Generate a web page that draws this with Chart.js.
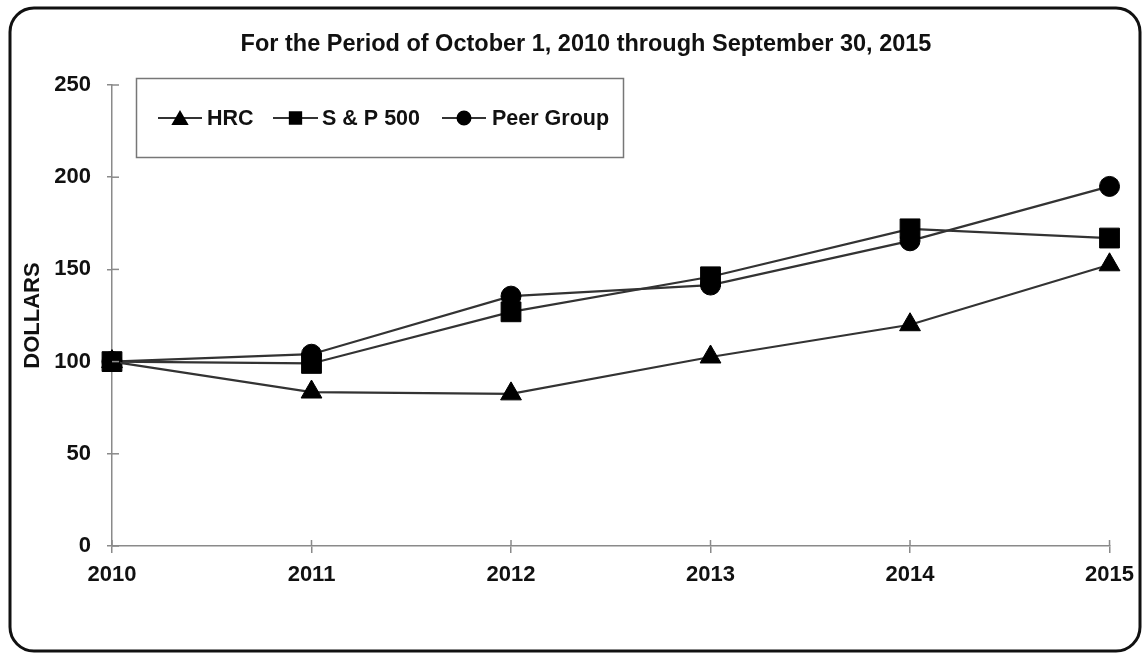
<!DOCTYPE html>
<html>
<head>
<meta charset="utf-8">
<script src="https://cdn.jsdelivr.net/npm/chart.js@4/dist/chart.umd.min.js"></script>
<style>
  html, body { margin: 0; padding: 0; background: #fff; }
  #wrap { position: relative; width: 1143px; height: 655px; }
</style>
</head>
<body>
<div id="wrap"><canvas id="c" width="1143" height="655"></canvas></div>
<script>
const years = ['2010', '2011', '2012', '2013', '2014', '2015'];
const hrc = [100, 83.5, 82.5, 102.5, 120, 152.5];
const sp500 = [100, 99, 127, 146, 172, 167];
const peerGroup = [100, 104, 135.5, 141.5, 165.5, 195];
const yTicks = [0, 50, 100, 150, 200, 250];
const titleText = 'For the Period of October 1, 2010 through September 30, 2015';
const yTitle = 'DOLLARS';
const seriesNames = ['HRC', 'S & P 500', 'Peer Group'];

const FONT = '"Liberation Sans", Arial, Helvetica, sans-serif';
const LINE = '#333';
const AXIS = '#8a8a8a';

const decor = {
  id: 'decor',
  beforeDraw(chart) {
    const ctx = chart.ctx;
    ctx.save();
    ctx.fillStyle = '#fff';
    ctx.fillRect(0, 0, chart.width, chart.height);
    ctx.beginPath();
    ctx.lineWidth = 3;
    ctx.strokeStyle = '#111';
    ctx.roundRect(10, 8, 1130, 643, 24);
    ctx.stroke();
    ctx.restore();
  },
  afterDraw(chart) {
    const ctx = chart.ctx;
    const xs = chart.scales.x, ys = chart.scales.y;
    ctx.save();
    ctx.strokeStyle = AXIS;
    ctx.lineWidth = 1.5;
    ys.ticks.forEach((t) => {
      const y = ys.getPixelForValue(t.value);
      ctx.beginPath(); ctx.moveTo(xs.left, y); ctx.lineTo(xs.left + 7, y); ctx.stroke();
    });
    years.forEach((yr, i) => {
      const x = xs.getPixelForValue(i);
      ctx.beginPath(); ctx.moveTo(x, ys.bottom); ctx.lineTo(x, ys.bottom - 6); ctx.stroke();
    });
    // title
    ctx.fillStyle = '#111';
    ctx.font = 'bold 23.5px ' + FONT;
    ctx.textAlign = 'center';
    ctx.textBaseline = 'middle';
    ctx.fillText(titleText, 586, 45);
    // legend
    ctx.strokeStyle = '#777';
    ctx.lineWidth = 1.5;
    ctx.strokeRect(136.5, 78.5, 487, 79);
    const ly = 118;
    const entries = [
      { name: seriesNames[0], x0: 158, x1: 202, style: 'triangle', r: 8, tx: 207 },
      { name: seriesNames[1], x0: 273, x1: 318, style: 'rect', r: 8, tx: 322 },
      { name: seriesNames[2], x0: 442, x1: 486, style: 'circle', r: 6.5, tx: 492 }
    ];
    ctx.font = 'bold 21.5px ' + FONT;
    ctx.textAlign = 'left';
    entries.forEach((e) => {
      ctx.strokeStyle = LINE;
      ctx.lineWidth = 2;
      ctx.beginPath(); ctx.moveTo(e.x0, ly); ctx.lineTo(e.x1, ly); ctx.stroke();
      ctx.fillStyle = '#000';
      ctx.strokeStyle = '#000';
      Chart.helpers.drawPoint(ctx, { pointStyle: e.style, radius: e.r, rotation: 0, borderWidth: 1 }, (e.x0 + e.x1) / 2, e.style === 'triangle' ? ly + 2 : ly);
      ctx.fillStyle = '#111';
      ctx.fillText(e.name, e.tx, ly + 1);
    });
    ctx.restore();
  }
};

const ds = (label, data, style, r) => ({
  label, data,
  borderColor: LINE, borderWidth: 2.2,
  pointStyle: style, pointRadius: r, pointHoverRadius: r,
  pointBackgroundColor: '#000', pointBorderColor: '#000', pointBorderWidth: 1,
  tension: 0, fill: false
});

new Chart(document.getElementById('c'), {
  type: 'line',
  data: {
    labels: years,
    datasets: [
      ds(seriesNames[0], hrc, 'triangle', 12),
      ds(seriesNames[1], sp500, 'rect', 14),
      ds(seriesNames[2], peerGroup, 'circle', 10)
    ]
  },
  options: {
    responsive: false,
    animation: false,
    layout: { padding: { left: 0, right: 33, top: 85, bottom: 0 } },
    plugins: { legend: { display: false }, title: { display: false }, tooltip: { enabled: false } },
    scales: {
      x: {
        offset: false,
        grid: { display: true, drawOnChartArea: false, drawTicks: true, tickLength: 7, color: AXIS, lineWidth: 1.5 },
        border: { display: true, color: AXIS, width: 1.5 },
        ticks: { color: '#111', font: { family: FONT, size: 22, weight: 'bold' }, padding: 9, maxRotation: 0, autoSkip: false },
        afterFit(s) { s.height = 109; }
      },
      y: {
        min: 0, max: 250,
        afterBuildTicks(s) { s.ticks = yTicks.map(v => ({ value: v })); },
        grid: { display: true, drawOnChartArea: false, drawTicks: true, tickLength: 5, color: AXIS, lineWidth: 1.5 },
        border: { display: true, color: AXIS, width: 1.5 },
        ticks: { color: '#111', font: { family: FONT, size: 22, weight: 'bold' }, padding: 16 },
        title: { display: true, text: yTitle, color: '#111', font: { family: FONT, size: 22, weight: 'bold' }, padding: { top: 20, bottom: 0 } },
        afterFit(s) { s.width = 112; }
      }
    }
  },
  plugins: [decor]
});
</script>
</body>
</html>
